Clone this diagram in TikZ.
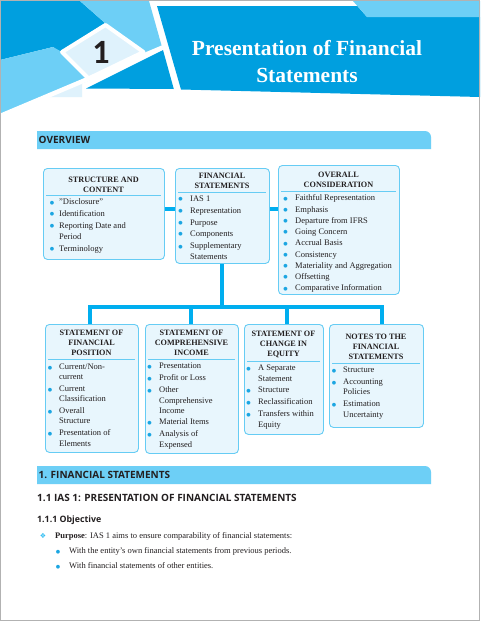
\documentclass[tikz,border=0pt]{standalone}
\usepackage{fontspec}
\setmainfont{Liberation Serif}
\newfontfamily\hsans{Open Sans}
\newfontfamily\numfont{Carlito}
\newfontfamily\symfont{DejaVu Sans}
\definecolor{dblue}{HTML}{009FDF}
\definecolor{lblue}{HTML}{6DCFF6}
\definecolor{pblue}{HTML}{DFF2FC}
\definecolor{cblue}{HTML}{00AEEF}
\definecolor{boxfill}{HTML}{E8F6FD}
\definecolor{boxline}{HTML}{66CCF4}
\definecolor{txt}{HTML}{231F20}
\definecolor{dotc}{HTML}{1CA6E2}
\newlength\blgap
\newcommand\dotb{\raisebox{0.6pt}{\symfont\fontsize{5}{5}\selectfont\textcolor{dotc}{●}}}
\newcommand\bitem[4]{\node[itm] (#1) at (#2,#3+2.8) {\llap{\dotb\hspace{\blgap}}#4};}
\newcommand\citem[4]{\node[itm] (#1) at (#2,#3+2.8) {#4};}
\tikzset{
 fbox/.style={draw=boxline, fill=boxfill, line width=0.9pt, rounded corners=4pt, inner sep=0pt, anchor=north west},
 ttl/.style={font=\fontsize{8.2}{10.3}\selectfont\bfseries, text=txt, align=center, inner sep=0pt},
 itm/.style={font=\fontsize{8.5}{10}\selectfont, text=txt, anchor=base west, inner sep=0pt},
 sepl/.style={draw=boxline, line width=0.8pt},
 conn/.style={draw=cblue, line width=4pt, line join=miter},
 bartxt/.style={font=\hsans\bfseries\fontsize{10}{12}\selectfont, text=txt, anchor=west, inner sep=0pt},
}
\begin{document}
\begin{tikzpicture}[x=1pt,y=-1pt]
\useasboundingbox (0,0) rectangle (480,621);
\fill[white] (0,0) rectangle (480,621);
% ---------- header ----------
\fill[dblue] (0,1) -- (80,1) -- (105,23) -- (60,52) -- (53,47) -- (0,60) -- cycle;
\fill[lblue] (80,1) -- (149,1) -- (162,47) -- (140,56) -- (105,23) -- cycle;
\fill[pblue] (40,97) -- (82,97) -- (82,76) -- cycle;
\fill[lblue] (0,60) -- (53,47) -- (62,52) -- (90,80) -- (0,117) -- cycle;
\fill[dblue] (86,88.5) -- (163,50) -- (173.8,89) -- cycle;
\fill[dblue] (157,6) -- (357.4,6) -- (367,17) -- (480,17) -- (480,97) -- (181,89.5) -- cycle;
\fill[lblue] (353,1) -- (480,1) -- (480,17) -- (367,17) -- cycle;
\filldraw[fill=pblue, draw=white, line width=4pt, line join=round] (105.5,25) -- (143.5,52) -- (88.5,78.5) -- (62,52) -- cycle;
\draw[white, line width=4.5pt] (0,116) -- (165,46.5);
\node[font=\numfont\bfseries\fontsize{34}{34}\selectfont, text=txt, inner sep=0pt] (num) at (101,52) {1};
\node[font=\bfseries\fontsize{21.5}{27}\selectfont, text=white, align=center, inner sep=0pt] (title) at (307,61.2) {Presentation of Financial\\Statements};
% ---------- overview bar ----------
\fill[lblue] (37,131) -- (425,131) .. controls (428.3,131) and (431,133.7) .. (431,137) -- (431,149) -- (37,149) -- cycle;
\node[bartxt] (ov) at (38.5,140) {OVERVIEW};
% ---------- boxes ----------
\node[fbox, minimum width=121pt, minimum height=91pt] (b1) at (43,168) {};
\node[fbox, minimum width=94pt, minimum height=95pt] (b2) at (175,168) {};
\node[fbox, minimum width=121pt, minimum height=129pt] (b3) at (278,165) {};
\node[fbox, minimum width=93pt, minimum height=128pt] (b4) at (45,324) {};
\node[fbox, minimum width=93pt, minimum height=129pt] (b5) at (145,324) {};
\node[fbox, minimum width=79pt, minimum height=110pt] (b6) at (244,324) {};
\node[fbox, minimum width=94pt, minimum height=103pt] (b7) at (329,324) {};
% connectors
\draw[conn] (b1.east |- 0,209) -- (b2.west |- 0,209);
\draw[conn] (b2.east |- 0,208.5) -- (b3.west |- 0,208.5);
\draw[conn] (b2.south) -- (b2.south |- 0,307);
\draw[conn] (90,0 |- b4.north) -- (90,307) -- (382,307) -- (382,0 |- b7.north);
\draw[conn] (191,307) -- (191,0 |- b5.north);
\draw[conn] (287,307) -- (287,0 |- b6.north);
% titles
\node[ttl] (b1t) at (103.5,184.5) {STRUCTURE AND\\CONTENT};
\node[ttl] (b2t) at (222,181) {FINANCIAL\\STATEMENTS};
\node[ttl] (b3t) at (338.5,180) {OVERALL\\CONSIDERATION};
\node[ttl] (b4t) at (91.5,343) {STATEMENT OF\\FINANCIAL\\POSITION};
\node[ttl] (b5t) at (191.5,343) {STATEMENT OF\\COMPREHENSIVE\\INCOME};
\node[ttl] (b6t) at (283.5,344.5) {STATEMENT OF\\CHANGE IN\\EQUITY};
\node[ttl] (b7t) at (376,347) {NOTES TO THE\\FINANCIAL\\STATEMENTS};
% separators
\draw[sepl] (46,195) -- (161,195);
\draw[sepl] (178,192) -- (266,192);
\draw[sepl] (281,191) -- (396,191);
\draw[sepl] (48,359) -- (135,359);
\draw[sepl] (148,359) -- (235,359);
\draw[sepl] (247,361) -- (320,361);
\draw[sepl] (332,363) -- (420,363);
% items box 1
\setlength\blgap{5pt}
\bitem{i11}{59}{202}{"Disclosure"}
\bitem{i12}{59}{213.5}{Identification}
\bitem{i13}{59}{225.5}{Reporting Date and}
\citem{i14}{59}{237}{Period}
\bitem{i15}{59}{248.5}{Terminology}
% box 2
\setlength\blgap{7.5pt}
\bitem{i21}{190}{198.3}{IAS 1}
\bitem{i22}{190}{210.7}{Representation}
\bitem{i23}{190}{222.3}{Purpose}
\bitem{i24}{190}{233.3}{Components}
\bitem{i25}{190}{246}{Supplementary}
\citem{i26}{190}{256.7}{Statements}
% box 3
\bitem{i31}{295}{198}{Faithful Representation}
\bitem{i32}{295}{209.2}{Emphasis}
\bitem{i33}{295}{220.5}{Departure from IFRS}
\bitem{i34}{295}{231.7}{Going Concern}
\bitem{i35}{295}{243}{Accrual Basis}
\bitem{i36}{295}{254.2}{Consistency}
\bitem{i37}{295}{265.5}{Materiality and Aggregation}
\bitem{i38}{295}{276.7}{Offsetting}
\bitem{i39}{295}{288}{Comparative Information}
% box 4
\setlength\blgap{7pt}
\bitem{i41}{59}{367}{Current/Non-}
\citem{i42}{59}{377}{current}
\bitem{i43}{59}{389}{Current}
\citem{i44}{59}{399}{Classification}
\bitem{i45}{59}{411}{Overall}
\citem{i46}{59}{421}{Structure}
\bitem{i47}{59}{433}{Presentation of}
\citem{i48}{59}{444}{Elements}
% box 5
\setlength\blgap{7.5pt}
\bitem{i51}{159}{366}{Presentation}
\bitem{i52}{159}{378}{Profit or Loss}
\bitem{i53}{159}{390}{Other}
\citem{i54}{159}{401}{Comprehensive}
\citem{i55}{159}{411}{Income}
\bitem{i56}{159}{422}{Material Items}
\bitem{i57}{159}{434}{Analysis of}
\citem{i58}{159}{445}{Expensed}
% box 6
\bitem{i61}{258}{368}{A Separate}
\citem{i62}{258}{379}{Statement}
\bitem{i63}{258}{390}{Structure}
\bitem{i64}{258}{402}{Reclassification}
\bitem{i65}{258}{414}{Transfers within}
\citem{i66}{258}{425}{Equity}
% box 7
\setlength\blgap{7pt}
\bitem{i71}{343}{370}{Structure}
\bitem{i72}{343}{382}{Accounting}
\citem{i73}{343}{392}{Policies}
\bitem{i74}{343}{404}{Estimation}
\citem{i75}{343}{415}{Uncertainty}
% ---------- section 1 ----------
\fill[lblue] (37,466) -- (425,466) .. controls (428.3,466) and (431,468.7) .. (431,472) -- (431,484) -- (37,484) -- cycle;
\node[bartxt] (fs) at (38.5,475) {1. FINANCIAL STATEMENTS};
\node[font=\hsans\bfseries\fontsize{10}{12}\selectfont, text=txt, anchor=west, inner sep=0pt] (h11) at (37,498) {1.1 IAS 1: PRESENTATION OF FINANCIAL STATEMENTS};
\node[font=\hsans\bfseries\fontsize{8.8}{11}\selectfont, text=txt, anchor=west, inner sep=0pt] (h111) at (37,520) {1.1.1 Objective};
\node[font=\symfont\fontsize{7}{8}\selectfont, text=cblue!80, inner sep=0pt] (dia) at (43,536) {❖};
\node[itm] (purp) at (55,538.8) {\textbf{Purpose}: IAS 1 aims to ensure comparability of financial statements:};
\setlength\blgap{9pt}
\bitem{w1}{69}{551}{With the entity’s own financial statements from previous periods.}
\bitem{w2}{69}{566}{With financial statements of other entities.}
% page frame
\draw[black!30, line width=1pt] (0.5,0.5) rectangle (479.5,620.5);
\end{tikzpicture}
\end{document}
